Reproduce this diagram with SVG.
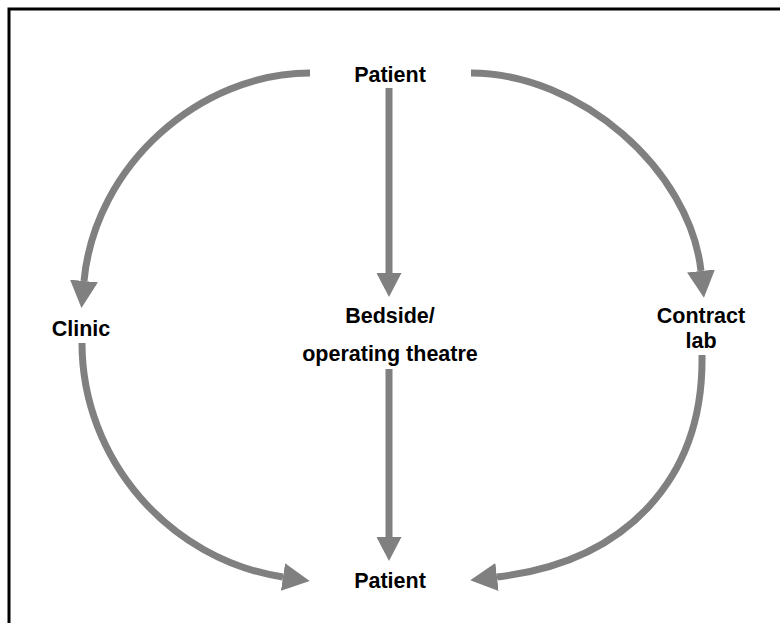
<svg xmlns="http://www.w3.org/2000/svg" width="780" height="623" viewBox="0 0 780 623">
<style>
.lbl{font-family:"Liberation Sans",Arial,sans-serif;font-weight:bold;font-size:21.5px;fill:#000;text-anchor:middle}
.con{fill:none;stroke:#808080;stroke-width:7}
</style>
<defs>
<marker id="ah" markerUnits="userSpaceOnUse" viewBox="0 0 27 28" refX="0" refY="14" markerWidth="27" markerHeight="28" orient="auto">
<path d="M0,0 L27,14 L0,28 z" fill="#808080"/>
</marker>
<marker id="ahs" markerUnits="userSpaceOnUse" viewBox="0 0 24 25" refX="0" refY="12.5" markerWidth="24" markerHeight="25" orient="auto">
<path d="M0,0 L24,12.5 L0,25 z" fill="#808080"/>
</marker>
</defs>
<rect width="780" height="623" fill="#fff"/>
<rect x="9" y="9" width="820" height="700" fill="none" stroke="#000" stroke-width="3"/>
<g id="connectors">
<path class="con" d="M310,73 C200,73 95,165 84,281" marker-end="url(#ah)"/>
<path class="con" d="M471,73 C580,73 690,170 701,271" marker-end="url(#ah)"/>
<path class="con" d="M389,88 L389,273" marker-end="url(#ahs)"/>
<path class="con" d="M389,369 L389,537" marker-end="url(#ahs)"/>
<path class="con" d="M82,343 C82,460 170,560 283,577" marker-end="url(#ah)"/>
<path class="con" d="M702,355 C704,480 625,562 497,577" marker-end="url(#ah)"/>
</g>
<g id="patient-top"><text class="lbl" x="390" y="82">Patient</text></g>
<g id="clinic"><text class="lbl" x="81" y="336">Clinic</text></g>
<g id="bedside"><text class="lbl" x="390" y="323">Bedside/</text><text class="lbl" x="390" y="361">operating theatre</text></g>
<g id="contract-lab"><text class="lbl" x="701" y="323">Contract</text><text class="lbl" x="701" y="348">lab</text></g>
<g id="patient-bottom"><text class="lbl" x="390" y="588">Patient</text></g>
</svg>
